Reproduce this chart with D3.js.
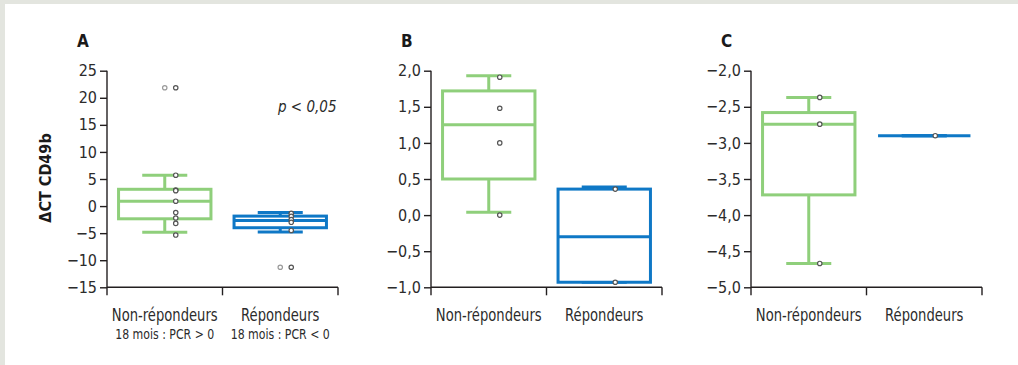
<!DOCTYPE html>
<html>
<head>
<meta charset="utf-8">
<script src="https://cdn.jsdelivr.net/npm/d3@7"></script>
<style>
  html, body { margin: 0; padding: 0; background: #e3e5df; }
  svg { display: block; }
  text { font-family: "Liberation Sans Narrow", "DejaVu Sans Condensed", "Roboto", sans-serif; fill: #2b2b2b; }
</style>
</head>
<body>
<div class="board"></div>
<script>
// categories and labels
var categories = ['Non-répondeurs', 'Répondeurs'];
var subLabelsA = ['18 mois : PCR > 0', '18 mois : PCR < 0'];
var panelLetters = ['A', 'B', 'C'];

// tick values per panel
var ticksA = [25, 20, 15, 10, 5, 0, -5, -10, -15];
var ticksB = [2.0, 1.5, 1.0, 0.5, 0.0, -0.5, -1.0];
var ticksC = [-2.0, -2.5, -3.0, -3.5, -4.0, -4.5, -5.0];

// box stats [lower whisker, q1, median, q3, upper whisker] per category
var boxA = [[-4.85, -2.35, 0.9, 3.1, 5.7], [-4.8, -4.0, -2.65, -1.85, -1.2]];
var boxB = [[0.04, 0.5, 1.25, 1.72, 1.93], [-0.93, -0.93, -0.3, 0.36, 0.39]];
var boxC = [[-4.67, -3.72, -2.74, -2.58, -2.37], [-2.9, -2.9, -2.9, -2.9, -2.9]];

// individual points per category
var pointsA = [[5.7, 2.95, 2.85, 0.9, -1.2, -2.2, -3.2, -5.35], [-1.35, -1.9, -2.5, -3.0, -4.5]];
var pointsB = [[1.91, 1.48, 1.0, 0.0], [0.36, -0.93]];
var pointsC = [[-2.37, -2.74, -4.67], [-2.9]];

// outliers (two overlapping markers each, one lighter)
var outliersA = [[21.85, 21.85], [-11.3, -11.3]];

var colors = ['#8fcf7b', '#0f78c6'];

(function(){
  var W = 1018, H = 365;
  var svg = d3.select('.board').append('svg')
    .attr('width', W)
    .attr('height', H);

  svg.append('rect')
    .attr('x', 5).attr('y', 4)
    .attr('width', W - 5).attr('height', H - 4)
    .style('fill', '#ffffff');

  var fmtInt = function(d){ return d < 0 ? '\u2212' + Math.abs(d) : String(d); };
  var fmtDec = function(d){
    var s = Math.abs(d).toFixed(1).replace('.', ',');
    return d < 0 ? '\u2212' + s : s;
  };

  var panels = [
    {x0: 107, ticks: ticksA, fmt: fmtInt, box: boxA, pts: pointsA, out: outliersA},
    {x0: 431, ticks: ticksB, fmt: fmtDec, box: boxB, pts: pointsB, out: null},
    {x0: 751, ticks: ticksC, fmt: fmtDec, box: boxC, pts: pointsC, out: null}
  ];

  var plotTop = 70.7, plotBottom = 287.3, plotW = 231;

  panels.forEach(function(p, i){
    var g = svg.append('g');
    var y = d3.scaleLinear()
      .domain([d3.min(p.ticks), d3.max(p.ticks)])
      .range([plotBottom, plotTop]);
    var x = d3.scalePoint()
      .domain(categories)
      .range([p.x0, p.x0 + plotW])
      .padding(0.5);
    var boxW = plotW * 0.4, capW = plotW * 0.195, ptOff = 11;

    // y axis
    var yAxis = g.append('g')
      .attr('transform', 'translate(' + p.x0 + ',0)')
      .call(d3.axisLeft(y).tickValues(p.ticks).tickFormat(p.fmt).tickSize(7).tickPadding(3));
    yAxis.select('.domain').attr('d', 'M0,' + plotTop + 'V' + plotBottom);
    yAxis.attr('font-family', null).attr('font-size', null);

    // x axis with end + middle ticks
    var xAxis = g.append('g');
    xAxis.append('line')
      .attr('x1', p.x0).attr('x2', p.x0 + plotW)
      .attr('y1', plotBottom).attr('y2', plotBottom);
    xAxis.selectAll('.xt')
      .data([0, 0.5, 1])
      .enter()
      .append('line')
      .attr('x1', function(d){ return p.x0 + d * plotW; })
      .attr('x2', function(d){ return p.x0 + d * plotW; })
      .attr('y1', plotBottom).attr('y2', plotBottom + 8);
    g.selectAll('line, path.domain')
      .style('stroke', '#231f20')
      .style('stroke-width', 1.4);
    yAxis.selectAll('text')
      .style('font-size', '16px')
      .style('fill', '#2b2b2b');

    // category labels (squeezed a little, the original face is condensed)
    g.selectAll('.cat')
      .data(categories)
      .enter()
      .append('text')
      .attr('transform', function(d){ return 'translate(' + x(d) + ',321) scale(0.86,1)'; })
      .attr('text-anchor', 'middle')
      .style('font-size', '17px')
      .text(function(d){ return d; });
    if(i === 0){
      g.selectAll('.sub')
        .data(subLabelsA)
        .enter()
        .append('text')
        .attr('transform', function(d, j){ return 'translate(' + x(categories[j]) + ',339) scale(0.84,1)'; })
        .attr('text-anchor', 'middle')
        .style('font-size', '14.5px')
        .text(function(d){ return d; });
    }

    // panel letter
    g.append('text')
      .attr('x', p.x0 - 30)
      .attr('y', 47)
      .style('font-size', '17px')
      .style('font-weight', 'bold')
      .style('fill', '#1a1a1a')
      .text(panelLetters[i]);

    // boxes
    p.box.forEach(function(s, j){
      var cx = x(categories[j]);
      var bg = g.append('g')
        .style('stroke', colors[j])
        .style('stroke-width', 3)
        .style('fill', 'none');
      bg.append('line')
        .attr('x1', cx).attr('x2', cx)
        .attr('y1', y(s[4])).attr('y2', y(s[3]));
      bg.append('line')
        .attr('x1', cx).attr('x2', cx)
        .attr('y1', y(s[1])).attr('y2', y(s[0]));
      bg.selectAll('.cap')
        .data([s[0], s[4]])
        .enter()
        .append('line')
        .attr('x1', cx - capW / 2).attr('x2', cx + capW / 2)
        .attr('y1', function(d){ return y(d); })
        .attr('y2', function(d){ return y(d); });
      bg.append('rect')
        .attr('x', cx - boxW / 2)
        .attr('width', boxW)
        .attr('y', y(s[3]))
        .attr('height', y(s[1]) - y(s[3]))
        .style('fill', 'white');
      bg.append('line')
        .attr('x1', cx - boxW / 2).attr('x2', cx + boxW / 2)
        .attr('y1', y(s[2])).attr('y2', y(s[2]));

      g.selectAll('.pt' + j)
        .data(p.pts[j])
        .enter()
        .append('circle')
        .attr('cx', cx + ptOff)
        .attr('cy', function(d){ return y(d); })
        .attr('r', 2.2)
        .style('fill', 'white')
        .style('stroke', '#555')
        .style('stroke-width', 1.2);

      if(p.out){
        g.selectAll('.out' + j)
          .data(p.out[j])
          .enter()
          .append('circle')
          .attr('cx', function(d, k){ return cx + (k === 0 ? 0 : ptOff); })
          .attr('cy', function(d){ return y(d); })
          .attr('r', 2.2)
          .style('fill', 'white')
          .style('stroke', function(d, k){ return k === 0 ? '#9a9a9a' : '#555'; })
          .style('stroke-width', 1.2);
      }
    });

    if(i === 0){
      g.append('text')
        .attr('transform', 'translate(51,178) rotate(-90)')
        .attr('text-anchor', 'middle')
        .style('font-size', '16px')
        .style('font-weight', 'bold')
        .style('fill', '#1a1a1a')
        .text('\u0394CT CD49b');
      g.append('text')
        .attr('x', 278)
        .attr('y', 112)
        .style('font-size', '15px')
        .style('font-style', 'italic')
        .text('p < 0,05');
    }
  });
})();
</script>
</body>
</html>
